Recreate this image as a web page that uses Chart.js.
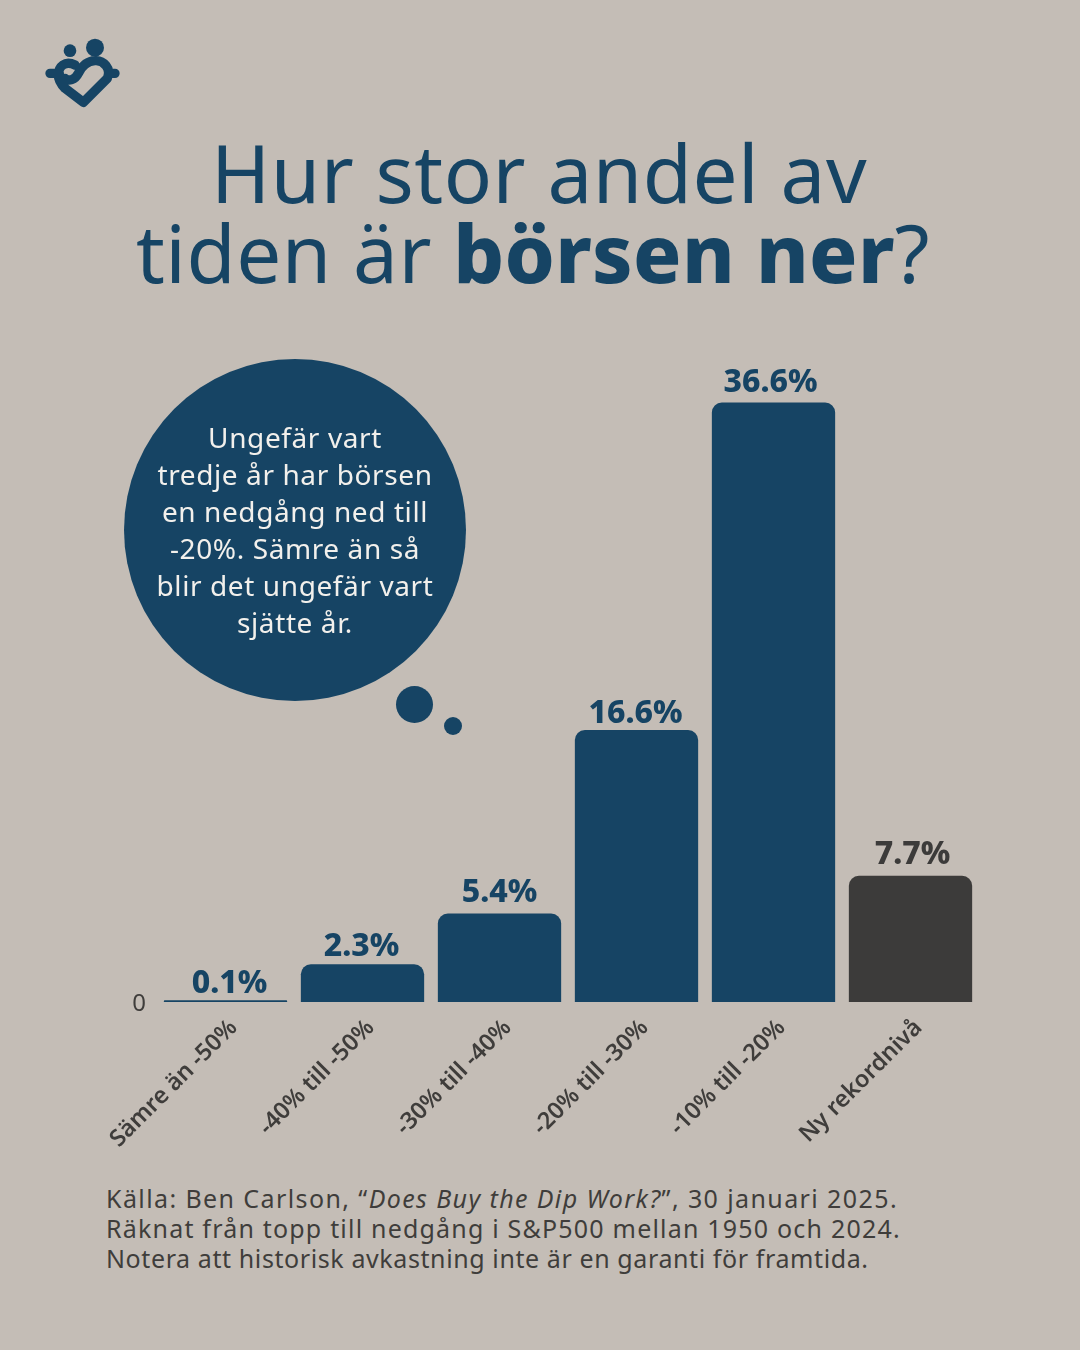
<!DOCTYPE html>
<html lang="sv">
<head>
<meta charset="utf-8">
<title>Hur stor andel av tiden är börsen ner?</title>
<script src="https://cdn.jsdelivr.net/npm/chart.js@4"></script>
<style>
    html, body { margin: 0; padding: 0; }
    body { position: relative; width: 1080px; height: 1350px; overflow: hidden; background: #c4bdb6; font-family: "Noto Sans", sans-serif; }
    #logo { position: absolute; left: 30px; top: 25px; width: 110px; height: 100px; }
    h1 { position: absolute; left: 0; top: 132px; width: 1066px; margin: 0; text-align: center; color: #164464; font-size: 80px; line-height: 80px; font-weight: 400; letter-spacing: 0.5px; }
    h1 b { font-weight: 800; letter-spacing: 0.3px; }
    h1 span { position: relative; left: 6px; }
    #grafico { position: absolute; left: 0; top: 340px; width: 1080px; height: 820px; }
    .bubbla { position: absolute; border-radius: 50%; background: #164464; }
    #tanke { left: 124px; top: 359px; width: 342px; height: 342px; z-index: 2; }
    #tanke-text { position: absolute; left: 124px; top: 419px; width: 342px; text-align: center; color: #f2f0ec; font-size: 28px; line-height: 37px; letter-spacing: 0.6px; z-index: 3; }
    #kalla { position: absolute; left: 106px; top: 1183px; color: #3f3d3b; font-size: 25px; line-height: 30px; white-space: nowrap; }
</style>
</head>
<body>
<svg id="logo" viewBox="0 0 330 300">
    <circle cx="120" cy="77" r="19" fill="#164464"/>
    <circle cx="195" cy="68" r="27" fill="#164464"/>
    <path d="M60 145 H88 M240 145 H255 M135 120 C105 105 85 125 85 150 C85 165 95 180 105 190 L160 232 L232 160 C245 130 220 105 195 107 C170 108 155 125 145 145 C135 165 115 170 105 160" fill="none" stroke="#164464" stroke-width="28" stroke-linecap="round" stroke-linejoin="round"/>
</svg>

<h1><span>Hur stor andel av</span><br>tiden är <b>börsen ner</b>?</h1>

<div id="grafico"><canvas id="chartBorsen"></canvas></div>

<div class="bubbla" id="tanke"></div>
<div id="tanke-text">Ungefär vart<br>tredje år har börsen<br>en nedgång ned till<br>-20%. Sämre än så<br>blir det ungefär vart<br>sjätte år.</div>
<div class="bubbla" style="left:396px;top:686px;width:37px;height:37px"></div>
<div class="bubbla" style="left:444px;top:717px;width:18px;height:18px"></div>

<div id="kalla"><span style="letter-spacing:1.4px">Källa: Ben Carlson, “<i>Does Buy the Dip Work?</i>”, 30 januari 2025.</span><br><span style="letter-spacing:1.2px">Räknat från topp till nedgång i S&amp;P500 mellan 1950 och 2024.</span><br><span style="letter-spacing:0.6px">Notera att historisk avkastning inte är en garanti för framtida.</span></div>

<script>
// Data
const kategorier = ["Sämre än -50%", "-40% till -50%", "-30% till -40%", "-20% till -30%", "-10% till -20%", "Ny rekordnivå"];
const andelar = [0.1, 2.3, 5.4, 16.6, 36.6, 7.7];
const etiketter = ["0.1%", "2.3%", "5.4%", "16.6%", "36.6%", "7.7%"];

// Etiketterna sitter lite olika i originalet
const etikettDx = [4, -1, 0, -1, -3, 2];
const etikettDy = [7, 8, 12, 7, 10, 12];

const BLA = "#164464";
const MORK = "#3c3b3a";
const TEXT = "#3f3d3b";

function farg(i) {
    return i === 5 ? MORK : BLA;
}

// Etiketter ovanför staplarna
const stapelEtiketter = {
    id: "stapelEtiketter",
    afterDatasetsDraw(chart) {
        const ctx = chart.ctx;
        ctx.save();
        ctx.font = "800 32px 'Noto Sans'";
        ctx.textAlign = "center";
        ctx.textBaseline = "alphabetic";
        chart.getDatasetMeta(0).data.forEach((bar, i) => {
            ctx.fillStyle = farg(i);
            ctx.fillText(etiketter[i], bar.x + etikettDx[i], bar.y - etikettDy[i]);
        });
        ctx.restore();
    }
};

new Chart(document.getElementById("chartBorsen"), {
    type: "bar",
    data: {
        labels: kategorier,
        datasets: [{
            data: andelar,
            backgroundColor: andelar.map((_, i) => farg(i)),
            barPercentage: 0.9,
            categoryPercentage: 1,
            borderRadius: { topLeft: 10, topRight: 10 },
            borderSkipped: "bottom"
        }]
    },
    options: {
        responsive: true,
        maintainAspectRatio: false,
        animation: false,
        layout: { padding: { top: 6, right: 101, left: 0, bottom: 0 } },
        plugins: { legend: { display: false }, tooltip: { enabled: false } },
        scales: {
            x: {
                grid: { display: false },
                border: { display: false },
                afterFit: s => { s.height = 158; },
                ticks: {
                    minRotation: 45,
                    maxRotation: 45,
                    autoSkip: false,
                    padding: 4,
                    labelOffset: 8,
                    color: TEXT,
                    font: { family: "'Noto Sans'", size: 23.5, weight: "600" }
                }
            },
            y: {
                min: 0,
                max: 39.35,
                grid: { display: false },
                border: { display: false },
                afterFit: s => { s.width = 157; },
                ticks: {
                    stepSize: 40,
                    padding: 3,
                    labelOffset: 2,
                    color: TEXT,
                    font: { family: "'Noto Sans'", size: 24 },
                    callback: v => (v === 0 ? "0" : "")
                }
            }
        }
    },
    plugins: [stapelEtiketter]
});
</script>
</body>
</html>
